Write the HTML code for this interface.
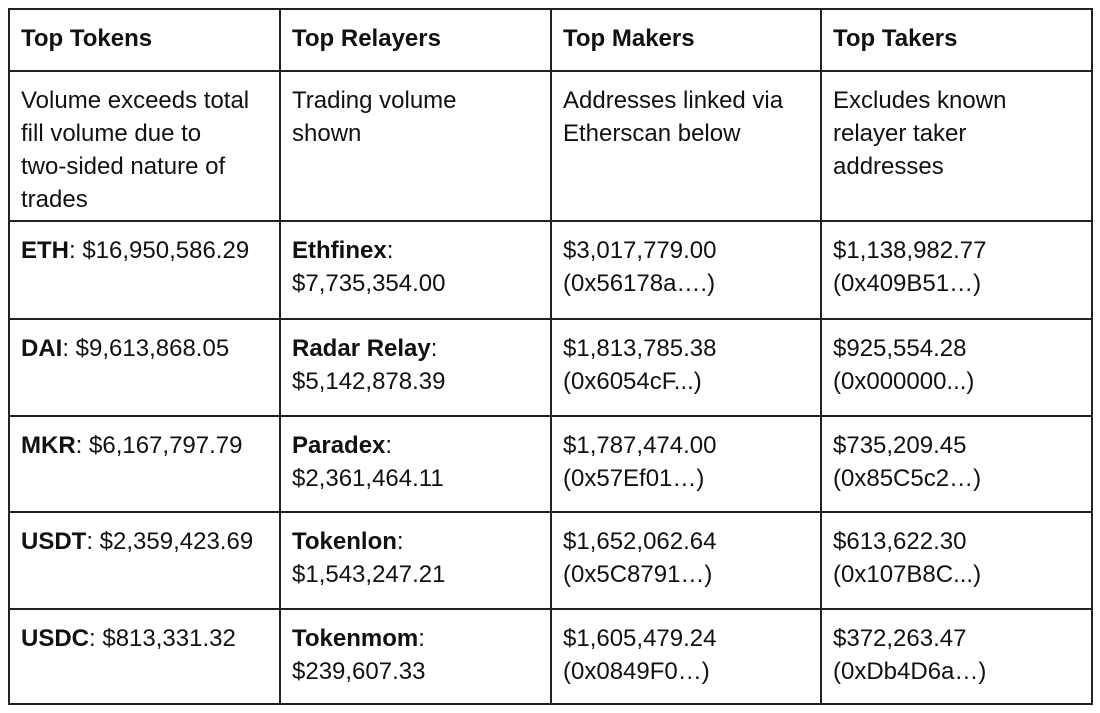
<!DOCTYPE html>
<html><head><meta charset="utf-8"><style>
html,body{margin:0;padding:0;background:#fff;width:1100px;height:713px;overflow:hidden}
table{position:absolute;left:8px;top:8px;border-collapse:collapse;table-layout:fixed;font-family:"Liberation Sans",Arial,sans-serif;font-size:24px;line-height:33px;color:#111}
td{border:2px solid #222;vertical-align:top;padding:12px 10px 0 11px;box-sizing:border-box;overflow:hidden;white-space:nowrap}
td.w{white-space:normal}
th{font-weight:bold}
b{font-weight:bold}
</style></head><body>
<table>
<colgroup><col style="width:271px"><col style="width:271px"><col style="width:270px"><col style="width:271px"></colgroup>
<tr style="height:62px">
<td><b>Top Tokens</b></td>
<td><b>Top Relayers</b></td>
<td><b>Top Makers</b></td>
<td><b>Top Takers</b></td></tr>
<tr style="height:150px">
<td>Volume exceeds total<br>fill volume due to<br>two-sided nature of<br>trades</td>
<td>Trading volume<br>shown</td>
<td>Addresses linked via<br>Etherscan below</td>
<td>Excludes known<br>relayer taker<br>addresses</td></tr>
<tr style="height:98px">
<td><b>ETH</b>: $16,950,586.29</td>
<td><b>Ethfinex</b>:<br>$7,735,354.00</td>
<td>$3,017,779.00<br>(0x56178a….)</td>
<td>$1,138,982.77<br>(0x409B51…)</td></tr>
<tr style="height:97px">
<td><b>DAI</b>: $9,613,868.05</td>
<td><b>Radar Relay</b>:<br>$5,142,878.39</td>
<td>$1,813,785.38<br>(0x6054cF...)</td>
<td>$925,554.28<br>(0x000000...)</td></tr>
<tr style="height:96px">
<td><b>MKR</b>: $6,167,797.79</td>
<td><b>Paradex</b>:<br>$2,361,464.11</td>
<td>$1,787,474.00<br>(0x57Ef01…)</td>
<td>$735,209.45<br>(0x85C5c2…)</td></tr>
<tr style="height:97px">
<td><b>USDT</b>: $2,359,423.69</td>
<td><b>Tokenlon</b>:<br>$1,543,247.21</td>
<td>$1,652,062.64<br>(0x5C8791…)</td>
<td>$613,622.30<br>(0x107B8C...)</td></tr>
<tr style="height:95px">
<td><b>USDC</b>: $813,331.32</td>
<td><b>Tokenmom</b>:<br>$239,607.33</td>
<td>$1,605,479.24<br>(0x0849F0…)</td>
<td>$372,263.47<br>(0xDb4D6a…)</td></tr>
</table>
</body></html>
